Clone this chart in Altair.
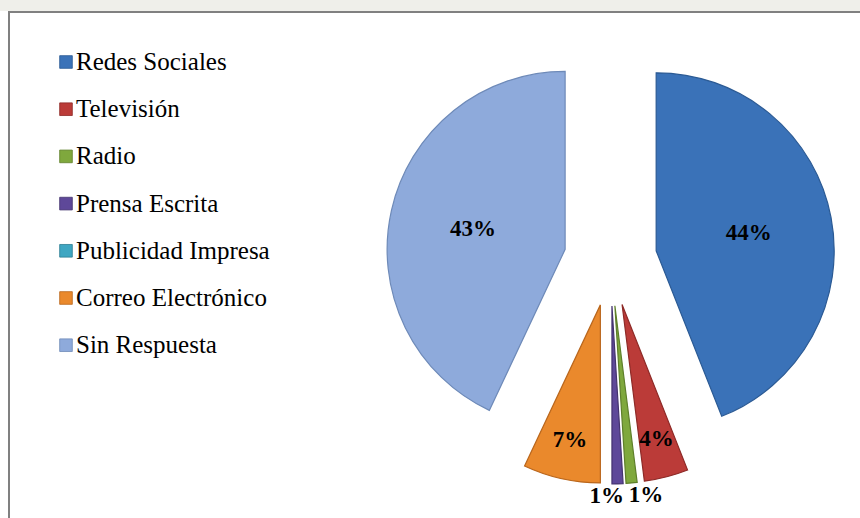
import altair as alt
import pandas as pd

# Survey answers: which channel people learned about it from
categorias = [
    "Redes Sociales",
    "Televisión",
    "Radio",
    "Prensa Escrita",
    "Publicidad Impresa",
    "Correo Electrónico",
    "Sin Respuesta",
]
porcentajes = [44, 4, 1, 1, 0, 7, 43]

colores = ["#3a72b8", "#bb3b38", "#7fa83d", "#5e4899", "#3ea6c2", "#ea892c", "#8eaadb"]
bordes = ["#2b5a94", "#8e2a27", "#5e7f2a", "#44336f", "#2c7d93", "#b9661c", "#6e8ab8"]

df = pd.DataFrame({
    "cat": categorias,
    "pct": porcentajes,
    "orden": list(range(len(categorias))),
})

# Pie geometry (pixels)
CX, CY = 610.5, 259.5      # pie centre before exploding
R = 178.0                  # slice radius
D = 46.5                   # explosion distance
FONT = "Liberation Serif, Times New Roman, DejaVu Serif, serif"

base = alt.Chart(df).transform_window(
    acum="sum(pct)", sort=[alt.SortField("orden")], frame=[None, 0]
).transform_calculate(
    a0="(datum.acum - datum.pct) / 100 * 2 * PI",
    a1="datum.acum / 100 * 2 * PI",
).transform_calculate(
    mid="(datum.a0 + datum.a1) / 2",
).transform_calculate(
    sx=f"{CX} + {D} * sin(datum.mid)",
    sy=f"{CY} - {D} * cos(datum.mid)",
    lr=f"datum.pct >= 20 ? {0.53 * R} : (datum.pct >= 3 ? {0.78 * R} : {1.07 * R})",
    etiqueta="datum.pct + '%'",
).transform_calculate(
    lx="datum.sx + datum.lr * sin(datum.mid)",
    ly="datum.sy - datum.lr * cos(datum.mid)",
)

color_scale = alt.Scale(domain=categorias, range=colores)
stroke_scale = alt.Scale(domain=categorias, range=bordes)

# Frame around the chart area and faint band above it
one = pd.DataFrame({"k": [0]})
banda = alt.Chart(one).mark_rect(fill="#efefea").encode(
    x=alt.value(0), x2=alt.value(860), y=alt.value(0), y2=alt.value(11)
)
marco = alt.Chart(one).mark_rect(fill="white", stroke="#808080", strokeWidth=2).encode(
    x=alt.value(9), x2=alt.value(920), y=alt.value(12), y2=alt.value(600)
)

# Exploded slices
porciones = base.transform_filter("datum.pct > 0").mark_arc(
    radius=R, strokeWidth=1.2
).encode(
    x=alt.X("sx:Q", scale=None),
    y=alt.Y("sy:Q", scale=None),
    theta=alt.Theta("a0:Q", scale=None),
    theta2=alt.Theta2("a1:Q"),
    color=alt.Color("cat:N", scale=color_scale, legend=None),
    stroke=alt.Stroke("cat:N", scale=stroke_scale, legend=None),
)

texto = dict(font=FONT, fontSize=23, fontWeight="bold", color="black", baseline="middle")

# Percent labels inside the larger slices
etiquetas = base.transform_filter("datum.pct >= 3").mark_text(**texto).encode(
    x=alt.X("lx:Q", scale=None),
    y=alt.Y("ly:Q", scale=None),
    text="etiqueta:N",
)

# The two 1% labels sit outside, side by side
etiqueta_prensa = base.transform_filter("datum.cat == 'Prensa Escrita'").mark_text(
    align="right", dx=6, **texto
).encode(x=alt.X("lx:Q", scale=None), y=alt.Y("ly:Q", scale=None), text="etiqueta:N")
etiqueta_radio = base.transform_filter("datum.cat == 'Radio'").mark_text(
    align="left", dx=-4, **texto
).encode(x=alt.X("lx:Q", scale=None), y=alt.Y("ly:Q", scale=None), text="etiqueta:N")

# Legend on the left
leyenda_base = alt.Chart(df).transform_calculate(
    ly="62 + 47.2 * datum.orden"
)
leyenda_simbolos = leyenda_base.mark_square(size=160, opacity=1, strokeWidth=0.8).encode(
    x=alt.value(66),
    y=alt.Y("ly:Q", scale=None),
    color=alt.Color("cat:N", scale=color_scale, legend=None),
    stroke=alt.Stroke("cat:N", scale=stroke_scale, legend=None),
)
leyenda_textos = leyenda_base.mark_text(
    align="left", baseline="middle", font=FONT, fontSize=25, color="black"
).encode(
    x=alt.value(76),
    y=alt.Y("ly:Q", scale=None),
    text="cat:N",
)

chart = alt.layer(
    banda, marco, porciones, etiquetas, etiqueta_prensa, etiqueta_radio,
    leyenda_simbolos, leyenda_textos,
).properties(
    width=860, height=518, autosize="none", padding=0
).configure_view(stroke=None)

chart.save("out.html", embed_options={"renderer": "svg", "actions": False})
